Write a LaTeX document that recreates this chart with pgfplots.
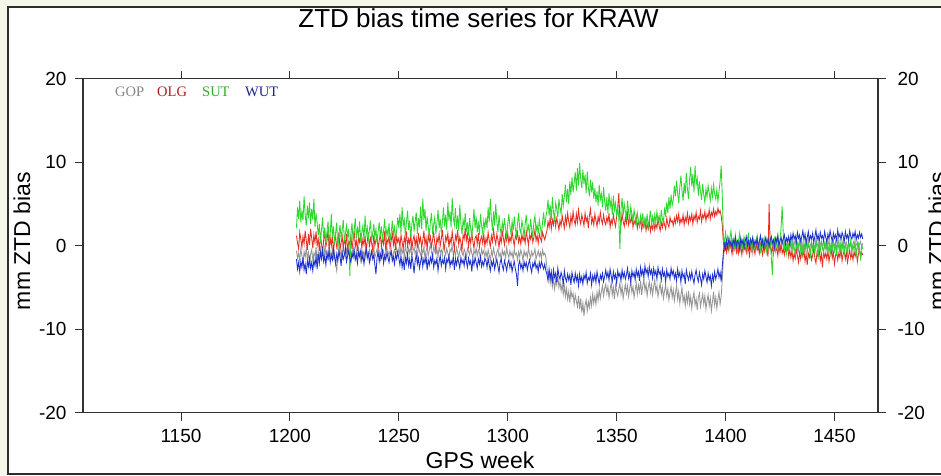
\documentclass[border=0pt]{standalone}
\usepackage{pgfplots}
\pgfplotsset{compat=1.18}
\usepackage{pgfplotstable}
\usepackage{fontspec}
\setmainfont{Liberation Sans}
\newfontfamily\legendfont{Liberation Serif}

\definecolor{pagebg}{RGB}{245,248,232}
\definecolor{framecol}{RGB}{45,45,45}
\definecolor{axiscol}{RGB}{50,50,50}
\definecolor{gopcol}{RGB}{150,150,150}
\definecolor{olgcol}{RGB}{232,45,35}
\definecolor{sutcol}{RGB}{45,215,45}
\definecolor{wutcol}{RGB}{30,50,205}
\definecolor{gopleg}{RGB}{135,135,135}
\definecolor{olgleg}{RGB}{175,30,30}
\definecolor{sutleg}{RGB}{40,175,40}
\definecolor{wutleg}{RGB}{30,35,140}

% ZTD bias (mm) of each solution against the reference, KRAW
\pgfplotstableread{
week gop olg sut wut
1203.0 -0.6 1.2 2.1 -1.6
1203.5 -1.5 0.3 4.6 -2.8
1204.0 -0.9 -0.4 3.2 -2.0
1204.5 -1.8 1.6 5.4 -3.1
1205.0 -0.4 0.8 2.8 -1.9
1205.5 -1.2 -0.2 4.1 -2.6
1206.0 -2.0 1.1 3.0 -1.4
1206.5 -0.7 0.2 5.9 -2.9
1207.0 -1.4 1.8 3.7 -2.2
1207.5 -0.3 0.6 2.4 -3.4
1208.0 -1.6 -0.5 4.8 -1.8
1208.5 -0.8 1.4 3.3 -2.5
1209.0 -2.2 0.1 5.2 -1.5
1209.5 -1.0 2.0 2.6 -2.7
1210.0 -0.5 0.9 4.4 -2.0
1210.5 -1.7 -0.3 3.1 -3.0
1211.0 -0.9 1.3 5.6 -1.7
1211.5 -1.3 0.4 2.2 -2.4
1212.0 -0.2 1.7 3.9 -1.3
1212.5 -1.9 0.0 2.7 -2.8
1213.0 -0.7 0.8 1.2 -1.0
1213.5 -1.4 -0.6 2.6 -2.1
1214.0 -0.3 1.2 0.4 -0.8
1214.5 -1.1 0.2 1.9 -1.6
1215.0 -0.5 -0.9 3.4 -0.5
1215.5 -1.6 0.7 0.9 -1.9
1216.0 -0.2 1.5 2.2 -1.2
1216.5 -1.0 -0.1 0.3 -2.3
1217.0 -0.6 0.5 1.7 -0.9
1217.5 -1.8 1.9 2.9 -1.5
1218.0 0.2 -0.4 0.6 -0.6
1218.5 -0.9 0.9 1.4 -2.0
1219.0 -1.3 0.0 3.8 -1.1
1219.5 -0.4 1.3 1.0 -1.7
1220.0 -1.5 -0.7 2.3 -0.4
1220.5 -0.8 0.6 0.2 -1.4
1221.0 -2.1 1.0 1.6 -2.2
1221.5 -3.0 -0.2 2.8 -1.0
1222.0 -1.0 0.4 -0.5 -1.8
1222.5 -0.3 1.6 1.3 -0.7
1223.0 -1.2 -0.5 2.5 -1.3
1223.5 -0.6 0.3 0.8 -2.4
1224.0 -1.7 1.1 1.9 -0.8
1224.5 0.1 -0.3 3.1 -1.6
1225.0 -0.9 0.8 0.5 -1.1
1225.5 -1.4 0.1 1.5 -0.3
1226.0 -0.4 1.4 2.4 -1.9
1226.5 -1.1 -0.8 1.1 -1.2
1227.0 -0.5 0.5 2.0 -0.6
1227.5 -1.6 0.2 -3.6 -1.5
1228.0 -0.7 1.2 1.4 -2.0
1228.5 -1.3 -0.4 2.7 -0.9
1229.0 -0.1 0.7 0.6 -1.4
1229.5 -0.9 1.8 1.8 -0.5
1230.0 -1.5 -0.1 3.3 -1.7
1230.5 -0.6 0.6 0.9 -1.1
1231.0 -1.2 -0.6 2.1 -2.1
1231.5 -0.3 1.0 1.2 -0.8
1232.0 -1.0 0.4 2.9 -1.3
1232.5 -1.8 1.5 0.4 -0.6
1233.0 -0.4 -0.3 1.6 -1.8
1233.5 -1.1 0.8 2.4 -1.0
1234.0 -0.7 0.1 0.7 -2.2
1234.5 -1.4 1.2 3.6 -1.2
1235.0 0.0 -0.7 1.3 -0.4
1235.5 -0.8 0.5 2.2 -1.5
1236.0 -1.3 1.6 0.8 -0.9
1236.5 -0.5 -0.2 1.9 -2.0
1237.0 -1.6 0.9 3.0 -1.3
1237.5 -0.6 0.3 0.5 -0.7
1238.0 -1.0 -0.5 1.5 -1.6
1238.5 -0.2 1.3 2.6 -1.1
1239.0 -1.4 0.0 1.0 -2.3
1239.5 -0.9 0.7 2.0 -3.4
1240.0 -0.4 1.1 0.3 -1.4
1240.5 -1.2 -0.4 1.7 -0.8
1241.0 -0.7 0.6 2.8 -1.9
1241.5 -1.9 1.4 1.1 -1.0
1242.0 -0.3 -0.1 2.3 -1.5
1242.5 -1.0 0.9 0.6 -0.6
1243.0 -0.6 0.2 1.8 -2.1
1243.5 -1.5 1.7 3.2 -1.2
1244.0 -0.8 -0.6 0.9 -1.7
1244.5 -0.1 0.8 2.0 -0.9
1245.0 -1.3 0.3 1.2 -1.4
1245.5 -0.7 1.2 2.7 -2.0
1246.0 -1.1 -0.3 0.5 -1.1
1246.5 -0.4 0.6 1.6 -0.7
1247.0 -1.6 1.5 3.0 -1.8
1247.5 -0.9 0.1 1.3 -1.3
1248.0 -0.5 0.9 2.2 -2.2
1248.5 -1.2 -0.5 0.8 -1.0
1249.0 -0.3 1.1 1.9 -1.6
1249.5 -1.0 0.4 3.4 -0.8
1250.0 -0.4 0.9 2.1 -1.5
1250.5 -1.1 -0.2 3.8 -2.3
1251.0 -0.2 1.3 1.5 -1.2
1251.5 -0.9 0.5 4.6 -2.6
1252.0 -0.5 -0.4 2.4 -1.7
1252.5 -1.3 1.0 3.1 -2.9
1253.0 0.1 0.3 1.2 -1.4
1253.5 -0.8 1.7 2.8 -2.1
1254.0 -1.2 -0.1 4.2 -1.0
1254.5 -0.3 0.8 1.9 -2.4
1255.0 -0.9 0.2 3.0 -1.6
1255.5 -0.1 1.4 1.0 -2.8
1256.0 -1.4 -0.5 2.6 -1.3
1256.5 -0.6 0.7 3.6 -2.0
1257.0 -0.2 1.2 1.7 -3.3
1257.5 -1.0 0.0 2.9 -1.8
1258.0 -0.5 0.9 4.0 -1.1
1258.5 -1.3 -0.3 1.4 -2.2
1259.0 0.0 1.5 3.3 -1.5
1259.5 -0.7 0.4 2.2 -2.7
1260.0 -1.1 1.0 4.7 -1.9
1260.5 -0.4 -0.2 2.0 -1.2
1261.0 -0.9 0.6 5.6 -2.5
1261.5 -0.2 1.8 3.1 -1.6
1262.0 -1.5 0.1 4.4 -2.1
1262.5 -0.6 0.9 1.8 -1.3
1263.0 -0.3 -0.4 3.5 -2.9
1263.5 -1.2 1.3 2.3 -1.7
1264.0 -0.5 0.5 1.1 -2.3
1264.5 0.2 1.1 2.9 -1.4
1265.0 -0.8 -0.1 3.9 -2.0
1265.5 -1.4 0.7 1.6 -1.1
1266.0 -0.1 1.6 2.5 -2.6
1266.5 -0.7 0.3 3.4 -1.8
1267.0 -1.0 -0.6 1.4 -2.2
1267.5 -0.4 1.0 2.7 -1.5
1268.0 -1.3 0.4 4.3 -3.0
1268.5 -0.2 1.4 2.1 -1.9
1269.0 -0.8 0.0 3.2 -1.2
1269.5 -0.5 0.8 1.5 -2.4
1270.0 -1.2 1.9 2.8 -1.7
1270.5 0.1 0.2 4.6 -2.1
1271.0 -0.6 -0.3 2.3 -1.4
1271.5 -1.1 1.1 3.7 -2.8
1272.0 -0.3 0.6 1.9 -1.6
1272.5 -0.9 1.5 5.2 -2.0
1273.0 -1.5 -0.2 3.0 -1.2
1273.5 -0.4 0.9 4.1 -2.5
1274.0 -0.7 0.3 2.2 -1.8
1274.5 0.0 1.7 5.7 -2.2
1275.0 -1.0 0.5 3.4 -1.3
1275.5 -0.5 -0.4 2.5 -2.9
1276.0 -1.3 1.2 4.5 -1.6
1276.5 -0.2 0.7 2.0 -2.3
1277.0 -0.8 1.9 3.6 -1.5
1277.5 -1.4 0.1 1.8 -2.0
1278.0 -0.6 1.0 4.9 -2.7
1278.5 -0.1 0.4 2.6 -1.4
1279.0 -0.9 -0.5 1.4 -2.1
1279.5 -1.2 1.3 3.1 -1.7
1280.0 -0.4 0.8 2.3 -2.4
1280.5 -0.8 2.1 3.9 -1.2
1281.0 -1.5 0.6 1.7 -1.9
1281.5 -0.3 1.4 2.8 -2.6
1282.0 -0.7 -0.1 1.2 -1.5
1282.5 -1.1 1.0 3.3 -2.2
1283.0 -0.2 0.3 2.0 -1.8
1283.5 -0.9 1.6 1.0 -3.1
1284.0 -1.4 0.5 2.6 -1.6
1284.5 -0.6 -0.3 4.4 -2.3
1285.0 -1.0 0.9 2.1 -1.4
1285.5 -0.3 1.2 3.5 -2.0
1286.0 -1.2 0.2 1.6 -2.7
1286.5 -0.5 1.5 2.9 -1.6
1287.0 -0.8 -0.2 1.3 -2.2
1287.5 -1.6 0.7 3.8 -1.3
1288.0 -0.4 1.1 2.4 -2.5
1288.5 -1.0 0.3 1.5 -1.9
1289.0 -0.6 1.4 3.0 -2.4
1289.5 -1.3 -0.1 2.0 -1.5
1290.0 -0.7 0.9 3.4 -1.8
1290.5 -1.4 0.3 2.1 -2.6
1291.0 -0.5 1.6 4.6 -1.5
1291.5 -1.1 0.6 2.8 -2.3
1292.0 -1.8 -0.1 5.6 -3.0
1292.5 -0.6 1.2 3.2 -1.9
1293.0 -1.2 0.5 1.8 -2.4
1293.5 -0.3 1.9 4.1 -1.7
1294.0 -1.0 0.8 2.4 -2.8
1294.5 -1.6 0.2 5.0 -2.1
1295.0 -0.8 1.4 2.9 -1.6
1295.5 -0.4 0.7 1.6 -2.5
1296.0 -1.3 -0.2 3.7 -3.2
1296.5 -0.9 1.1 2.2 -2.0
1297.0 -1.7 0.4 1.3 -1.6
1297.5 -0.5 1.7 2.8 -2.4
1298.0 -1.1 0.9 1.9 -2.9
1298.5 -0.7 0.1 3.3 -1.8
1299.0 -1.5 1.3 2.0 -2.3
1299.5 -0.2 0.6 1.1 -3.0
1300.0 -1.0 1.5 2.6 -2.1
1300.5 -1.4 0.3 3.8 -1.7
1301.0 -0.6 1.0 2.3 -2.6
1301.5 -1.2 0.5 1.4 -2.0
1302.0 -0.8 1.8 2.9 -3.1
1302.5 -1.6 0.7 1.8 -2.4
1303.0 -0.4 0.0 3.5 -1.9
1303.5 -1.1 1.2 2.1 -2.8
1304.0 -0.9 0.8 1.2 -3.4
1304.5 -1.7 1.6 2.7 -4.8
1305.0 -0.7 0.4 3.9 -2.3
1305.5 -1.3 1.0 2.0 -1.8
1306.0 -0.5 0.2 1.5 -2.7
1306.5 -1.0 1.4 3.0 -2.2
1307.0 -1.8 0.6 2.2 -3.0
1307.5 -0.6 1.1 1.0 -1.9
1308.0 -1.2 0.3 2.6 -2.5
1308.5 -0.8 1.7 3.7 -2.0
1309.0 -1.4 0.9 1.8 -2.9
1309.5 -0.3 0.1 2.4 -2.2
1310.0 -1.0 1.3 1.3 -1.7
1310.5 -1.5 0.8 3.2 -2.6
1311.0 -0.7 1.5 2.0 -3.2
1311.5 -1.2 0.4 1.1 -2.1
1312.0 -0.9 1.0 2.8 -2.5
1312.5 -0.4 1.9 3.6 -1.8
1313.0 -1.6 0.6 1.7 -2.7
1313.5 -1.1 1.2 2.5 -2.3
1314.0 -0.6 0.3 1.4 -3.1
1314.5 -1.3 1.4 3.1 -2.0
1315.0 -0.8 0.9 2.2 -2.6
1315.5 -1.5 0.5 1.2 -1.9
1316.0 -0.5 1.6 2.9 -2.4
1316.5 -1.1 1.1 4.0 -2.8
1317.0 -0.9 0.7 2.3 -2.2
1317.5 -1.4 1.3 3.4 -3.0
1318.0 -2.6 1.8 4.2 -3.4
1318.5 -3.8 2.9 5.5 -4.2
1319.0 -3.1 2.2 3.6 -2.8
1319.5 -4.5 3.4 4.9 -3.9
1320.0 -3.5 2.0 3.1 -3.1
1320.5 -4.9 3.1 5.8 -4.5
1321.0 -3.9 2.5 4.0 -2.9
1321.5 -5.2 3.8 3.2 -3.8
1322.0 -4.1 2.3 5.1 -3.3
1322.5 -4.7 3.3 4.4 -4.4
1323.0 -3.6 2.7 3.4 -2.7
1323.5 -5.0 1.9 5.6 -3.6
1324.0 -4.3 3.0 4.5 -4.0
1324.5 -5.4 2.4 3.8 -3.2
1325.0 -4.6 3.6 6.2 -3.7
1325.5 -5.8 2.8 4.8 -4.6
1326.0 -4.8 2.1 5.9 -3.0
1326.5 -6.1 3.5 7.3 -3.9
1327.0 -5.1 2.6 5.2 -4.3
1327.5 -6.4 3.9 6.8 -3.4
1328.0 -5.5 2.9 5.0 -4.1
1328.5 -6.8 2.2 7.7 -3.5
1329.0 -5.3 3.6 6.1 -4.7
1329.5 -6.2 2.7 8.2 -3.2
1330.0 -5.7 4.1 6.4 -3.9
1330.5 -7.0 3.0 7.5 -4.4
1331.0 -5.9 2.5 8.8 -3.3
1331.5 -6.6 3.8 6.6 -4.2
1332.0 -7.3 2.8 9.3 -3.6
1332.5 -6.0 4.3 7.2 -4.8
1333.0 -7.6 3.2 9.9 -3.4
1333.5 -6.3 2.6 8.0 -4.3
1334.0 -8.0 3.7 6.9 -3.7
1334.5 -6.9 3.1 9.1 -4.6
1335.0 -8.4 2.4 7.4 -3.5
1335.5 -7.1 3.9 8.5 -4.0
1336.0 -6.5 2.9 6.3 -3.2
1336.5 -7.8 3.4 8.9 -4.5
1337.0 -6.7 2.1 7.0 -3.8
1337.5 -7.4 3.6 5.9 -4.1
1338.0 -6.2 4.4 7.9 -3.3
1338.5 -7.2 2.7 6.4 -4.7
1339.0 -5.8 3.3 7.6 -3.6
1339.5 -6.9 2.5 5.6 -4.2
1340.0 -6.0 3.8 6.9 -3.4
1340.5 -7.0 3.0 5.2 -4.4
1341.0 -5.6 2.3 6.5 -3.1
1341.5 -6.5 3.5 4.8 -3.9
1342.0 -5.2 2.8 7.3 -4.6
1342.5 -6.3 4.0 5.5 -3.5
1343.0 -5.5 3.1 6.2 -4.0
1343.5 -4.8 2.6 4.6 -3.3
1344.0 -6.0 3.7 7.0 -4.3
1344.5 -5.1 2.9 5.3 -3.7
1345.0 -4.6 2.5 4.2 -2.9
1345.5 -5.7 3.4 5.8 -3.8
1346.0 -4.9 2.8 3.9 -3.2
1346.5 -6.2 3.9 6.3 -4.1
1347.0 -5.3 2.2 4.6 -2.8
1347.5 -4.4 3.1 5.5 -3.6
1348.0 -5.9 2.6 3.7 -4.3
1348.5 -5.0 3.7 6.0 -3.1
1349.0 -6.4 2.9 4.3 -3.9
1349.5 -4.7 2.3 5.1 -3.4
1350.0 -5.5 3.5 3.5 -4.5
1350.5 -6.0 4.6 4.8 -3.0
1351.0 -5.2 6.3 3.2 -3.7
1351.5 -4.5 3.2 -0.4 -3.3
1352.0 -5.8 2.6 4.4 -4.2
1352.5 -4.9 3.8 5.7 -2.9
1353.0 -6.3 2.9 3.6 -3.8
1353.5 -5.4 2.3 5.0 -3.2
1354.0 -4.6 3.4 4.1 -4.0
1354.5 -5.7 2.7 3.3 -3.5
1355.0 -4.8 3.9 5.4 -2.7
1355.5 -6.1 2.5 4.0 -3.9
1356.0 -5.1 3.2 3.1 -3.3
1356.5 -4.3 2.8 4.7 -4.4
1357.0 -5.6 3.6 3.8 -3.0
1357.5 -4.9 2.2 2.9 -3.7
1358.0 -6.2 3.0 4.3 -3.2
1358.5 -5.3 2.6 3.4 -4.1
1359.0 -4.5 3.5 2.6 -2.8
1359.5 -5.8 2.1 3.9 -3.6
1360.0 -4.7 2.9 3.0 -3.1
1360.5 -5.5 2.4 2.3 -4.2
1361.0 -4.2 3.3 3.6 -2.6
1361.5 -5.9 1.9 2.7 -3.5
1362.0 -4.8 2.7 3.9 -2.9
1362.5 -4.0 2.2 2.1 -3.8
1363.0 -5.4 3.1 3.3 -2.4
1363.5 -4.6 1.8 2.5 -3.3
1364.0 -6.0 2.6 3.8 -2.8
1364.5 -5.0 2.0 2.2 -3.7
1365.0 -4.3 2.9 3.1 -2.5
1365.5 -5.6 1.7 4.2 -3.4
1366.0 -4.7 2.5 2.6 -2.9
1366.5 -5.9 2.0 3.5 -3.9
1367.0 -4.9 3.0 2.4 -2.7
1367.5 -4.1 1.9 3.7 -3.5
1368.0 -5.5 2.6 2.8 -3.0
1368.5 -4.8 2.1 4.1 -4.0
1369.0 -6.1 3.2 2.9 -2.6
1369.5 -5.2 2.4 3.6 -3.4
1370.0 -4.5 1.8 2.5 -3.1
1370.5 -5.8 2.8 4.3 -4.1
1371.0 -5.0 2.2 3.2 -2.8
1371.5 -6.3 3.1 2.7 -3.6
1372.0 -5.4 2.5 4.6 -3.2
1372.5 -4.7 2.0 3.5 -4.3
1373.0 -6.0 3.3 5.2 -2.9
1373.5 -5.2 2.6 3.9 -3.7
1374.0 -6.5 2.2 5.8 -3.3
1374.5 -5.6 3.4 4.4 -4.0
1375.0 -4.9 2.8 6.1 -2.7
1375.5 -6.2 3.0 4.8 -3.5
1376.0 -5.3 2.4 5.5 -3.0
1376.5 -6.6 3.3 7.2 -3.9
1377.0 -5.7 2.7 5.9 -3.3
1377.5 -4.8 3.6 7.8 -4.2
1378.0 -6.4 2.9 6.3 -2.8
1378.5 -5.5 3.8 5.1 -3.7
1379.0 -6.9 2.6 7.0 -3.2
1379.5 -5.9 3.2 8.4 -4.4
1380.0 -5.0 2.8 6.6 -3.0
1380.5 -6.7 3.7 5.4 -3.8
1381.0 -6.0 2.5 7.5 -3.4
1381.5 -7.2 3.4 6.2 -4.6
1382.0 -5.8 2.9 8.7 -2.9
1382.5 -6.8 3.9 6.8 -3.6
1383.0 -5.4 2.7 5.6 -4.1
1383.5 -7.0 3.5 7.9 -3.3
1384.0 -6.1 3.0 9.4 -4.0
1384.5 -7.5 3.8 7.1 -3.1
1385.0 -6.3 2.6 8.6 -3.9
1385.5 -5.6 3.6 6.4 -4.5
1386.0 -7.1 3.1 9.6 -3.5
1386.5 -6.4 4.0 7.3 -2.9
1387.0 -7.7 2.8 8.1 -3.8
1387.5 -6.2 3.5 6.0 -4.3
1388.0 -5.7 3.2 7.7 -3.2
1388.5 -7.3 4.2 6.5 -3.9
1389.0 -6.5 2.9 5.5 -4.7
1389.5 -5.8 3.7 7.4 -3.4
1390.0 -7.0 3.3 6.1 -4.0
1390.5 -6.0 4.1 5.2 -3.0
1391.0 -7.6 3.0 6.8 -3.7
1391.5 -6.6 3.8 5.8 -4.4
1392.0 -5.9 3.4 7.2 -3.3
1392.5 -7.2 4.3 6.3 -4.1
1393.0 -6.3 3.2 5.4 -3.6
1393.5 -7.8 4.0 6.9 -4.8
1394.0 -6.7 3.6 5.9 -3.5
1394.5 -5.5 4.4 7.3 -4.2
1395.0 -7.1 3.5 6.2 -3.1
1395.5 -6.2 4.1 5.6 -4.0
1396.0 -7.5 3.7 6.7 -3.5
1396.5 -6.4 4.5 5.3 -2.8
1397.0 -5.6 3.9 6.5 -3.8
1397.5 -7.0 4.2 7.7 -3.2
1398.0 -6.1 3.6 9.6 -4.3
1398.5 -4.0 2.5 6.0 -2.5
1399.0 -1.5 0.4 1.2 -0.8
1399.5 -0.3 -0.5 0.3 0.2
1400.0 0.4 0.2 1.6 -0.4
1400.5 -0.6 -0.8 0.5 0.6
1401.0 0.2 0.1 1.1 -0.2
1401.5 -0.4 -0.6 -0.2 0.8
1402.0 0.7 0.5 0.9 0.1
1402.5 -0.2 -0.3 1.8 0.5
1403.0 0.3 -1.0 0.2 -0.3
1403.5 -0.7 0.3 0.8 0.7
1404.0 0.5 -0.4 -0.4 0.2
1404.5 -0.1 0.6 1.3 1.0
1405.0 -0.8 -0.7 0.4 -0.1
1405.5 0.4 0.0 -0.6 0.6
1406.0 -0.3 -0.9 0.7 0.3
1406.5 0.6 0.4 1.5 -0.5
1407.0 -0.5 -0.2 0.0 0.9
1407.5 0.2 -1.1 0.6 0.2
1408.0 -0.6 0.2 -0.5 0.7
1408.5 0.8 -0.5 1.0 -0.2
1409.0 -0.2 -0.1 0.3 0.5
1409.5 0.3 -0.8 -0.3 1.1
1410.0 -0.7 0.5 0.8 0.0
1410.5 0.1 -0.4 1.4 0.6
1411.0 0.5 -1.2 -0.1 -0.3
1411.5 -0.4 0.1 0.5 0.8
1412.0 0.2 -0.6 -0.7 0.3
1412.5 -0.9 0.3 0.9 1.0
1413.0 0.4 -0.3 0.2 -0.1
1413.5 -0.1 -1.0 -0.4 0.6
1414.0 0.6 0.4 0.6 0.2
1414.5 -0.5 -0.5 1.2 0.9
1415.0 0.0 -0.2 -0.2 -0.2
1415.5 0.5 -0.9 0.4 0.5
1416.0 -0.6 0.2 -0.6 1.2
1416.5 0.3 -0.4 0.7 0.1
1417.0 -0.2 -1.1 0.1 0.7
1417.5 0.7 0.0 -0.5 -0.3
1418.0 -0.4 -0.7 0.9 0.4
1418.5 0.2 0.3 0.2 1.0
1419.0 -0.8 -0.5 -0.8 0.2
1419.5 0.4 -1.3 0.5 0.8
1420.0 -0.2 5.0 -0.3 -0.1
1420.5 -0.3 0.1 1.1 0.6
1421.0 0.5 -0.8 -1.4 1.1
1421.5 -0.1 -0.2 -3.5 0.3
1422.0 0.6 -1.0 0.0 0.7
1422.5 -0.5 0.2 0.8 -0.2
1423.0 0.1 -0.6 -0.6 0.9
1423.5 0.8 -0.3 0.4 0.4
1424.0 -0.4 -1.2 1.3 1.2
1424.5 0.3 0.0 -0.2 0.0
1425.0 -0.7 -0.7 0.6 0.6
1425.5 0.2 0.2 2.2 1.0
1426.0 0.6 -0.9 4.7 0.3
1426.5 -0.2 -0.4 1.4 0.8
1427.0 0.4 -1.1 -0.5 1.3
1427.5 -0.6 -0.2 0.5 0.2
1428.0 0.1 -0.8 -0.9 0.9
1428.5 0.7 0.1 0.3 0.5
1429.0 -0.3 -1.3 -0.3 1.1
1429.5 0.5 -0.5 0.7 0.1
1430.0 -0.2 -1.4 0.2 1.3
1430.5 0.4 -0.6 -0.6 0.6
1431.0 -0.5 -1.8 0.5 1.5
1431.5 0.2 -0.9 -0.2 0.8
1432.0 0.7 -1.5 -1.0 1.2
1432.5 -0.3 -0.4 0.4 0.4
1433.0 0.3 -1.2 -0.5 1.6
1433.5 -0.6 -2.0 0.1 0.9
1434.0 0.5 -0.8 0.8 1.3
1434.5 -0.1 -1.6 -0.7 0.5
1435.0 0.6 -0.7 0.0 1.1
1435.5 -0.4 -1.3 -1.1 1.8
1436.0 0.2 -0.5 0.3 0.7
1436.5 -0.7 -1.9 -0.4 1.4
1437.0 0.4 -1.0 0.6 0.3
1437.5 -0.2 -2.3 -0.8 1.0
1438.0 0.8 -0.9 0.2 1.7
1438.5 -0.5 -1.4 -0.3 0.6
1439.0 0.1 -0.6 -1.2 1.2
1439.5 0.5 -1.7 0.4 0.8
1440.0 -0.4 -1.1 -0.5 1.5
1440.5 0.3 -0.4 0.1 0.4
1441.0 -0.6 -1.5 -0.9 1.1
1441.5 0.6 -2.1 0.6 1.9
1442.0 -0.1 -0.8 -0.2 0.7
1442.5 0.4 -1.3 -1.3 1.3
1443.0 -0.7 -0.5 0.2 0.5
1443.5 0.2 -1.8 -0.6 1.6
1444.0 0.5 -1.0 0.5 0.9
1444.5 -0.3 -2.6 -0.1 1.2
1445.0 0.7 -0.7 -0.8 0.6
1445.5 -0.2 -1.4 0.3 1.7
1446.0 0.3 -0.9 -0.4 1.0
1446.5 -0.5 -1.6 0.8 0.4
1447.0 0.1 -0.6 -0.7 1.4
1447.5 0.6 -1.9 0.0 0.8
1448.0 -0.4 -1.1 -1.0 1.8
1448.5 0.2 -0.5 0.4 1.1
1449.0 -0.8 -1.5 -0.3 0.5
1449.5 0.4 -0.8 0.7 1.5
1450.0 -0.1 -2.2 -0.6 0.9
1450.5 0.5 -1.2 0.1 1.3
1451.0 -0.3 -0.6 -1.2 0.6
1451.5 0.2 -1.7 0.5 1.9
1452.0 0.7 -0.9 -0.3 1.0
1452.5 -0.5 -1.4 -0.8 1.4
1453.0 0.3 -0.4 0.3 0.7
1453.5 -0.2 -1.8 -0.5 1.6
1454.0 0.6 -1.0 0.6 1.2
1454.5 -0.6 -0.6 -0.9 0.5
1455.0 0.1 -1.6 0.2 1.7
1455.5 0.4 -0.8 -0.4 0.9
1456.0 -0.4 -2.0 -1.1 1.3
1456.5 0.3 -1.2 0.4 0.6
1457.0 -0.1 -0.5 -0.2 1.8
1457.5 0.5 -1.5 0.7 1.1
1458.0 -0.7 -0.9 -0.7 0.8
1458.5 0.2 -1.7 0.1 1.5
1459.0 0.6 -0.7 -0.5 1.0
1459.5 -0.3 -1.3 0.4 1.7
1460.0 0.1 -0.6 -1.3 0.7
1460.5 0.4 -1.9 -0.1 1.3
1461.0 -0.5 -1.0 0.3 0.9
1461.5 0.2 -0.4 -0.6 1.6
1462.0 0.5 -1.4 -1.5 1.0
1462.5 -0.2 -0.8 0.0 1.4
1463.0 0.3 -1.1 -0.4 0.8
}\ztd

\pgfplotsset{
  ztdaxis/.style={
    at={(83pt,62.3pt)}, anchor=south west,
    scale only axis, width=795pt, height=334pt,
    xmin=1105, xmax=1470, ymin=-20, ymax=20,
    xtick={1150,1200,...,1450}, ytick={-20,-10,...,20},
    tick align=outside, major tick length=8pt,
    axis line style={axiscol, line width=1.3pt},
    every tick/.style={axiscol, line width=1pt},
    tick label style={font=\fontsize{19}{22}\selectfont, text=black},
    xticklabel shift=5pt,
    /pgf/number format/assume math mode=true,
    /pgf/number format/1000 sep={},
  },
}

\begin{document}
\begin{tikzpicture}[x=1pt,y=1pt]
  \fill[pagebg] (0,0) rectangle (941,475);
  \path[use as bounding box] (0,0) rectangle (941,475);
  \filldraw[fill=white, draw=framecol, line width=1.3pt] (8,1) rectangle (990,468);

  \begin{axis}[ztdaxis,
    xtick pos=both, ytick pos=both,
    xticklabel pos=lower, yticklabel pos=left,
    yticklabel shift=5pt]
    \addplot[gopcol, line width=0.85pt] table[x=week, y=gop] {\ztd};
    \addplot[olgcol, line width=0.85pt] table[x=week, y=olg] {\ztd};
    \addplot[sutcol, line width=0.85pt] table[x=week, y=sut] {\ztd};
    \addplot[wutcol, line width=0.85pt] table[x=week, y=wut] {\ztd};
  \end{axis}

  % right-hand y scale
  \begin{axis}[ztdaxis,
    axis x line=none, axis y line*=right,
    tick align=outside, ytick pos=right, yticklabel pos=right,
    yticklabel shift=8pt]
  \end{axis}

  \node[anchor=base, inner sep=0, font=\fontsize{26}{30}\selectfont] at (478.5,447) {ZTD bias time series for KRAW};
  \node[anchor=base, inner sep=0, font=\fontsize{23}{27}\selectfont] at (480,7) {GPS week};
  \node[anchor=base, inner sep=0, rotate=90, font=\fontsize{23}{27}\selectfont] at (30,234) {mm ZTD bias};
  \node[anchor=base, inner sep=0, rotate=90, font=\fontsize{23}{27}\selectfont] at (945,234) {mm ZTD bias};

  \node[anchor=base west, inner sep=0, text=gopleg, font=\legendfont\fontsize{14.5}{16}\selectfont] at (115,379) {GOP};
  \node[anchor=base west, inner sep=0, text=olgleg, font=\legendfont\fontsize{14.5}{16}\selectfont] at (157,379) {OLG};
  \node[anchor=base west, inner sep=0, text=sutleg, font=\legendfont\fontsize{14.5}{16}\selectfont] at (202,379) {SUT};
  \node[anchor=base west, inner sep=0, text=wutleg, font=\legendfont\fontsize{14.5}{16}\selectfont] at (245,379) {WUT};
\end{tikzpicture}
\end{document}
